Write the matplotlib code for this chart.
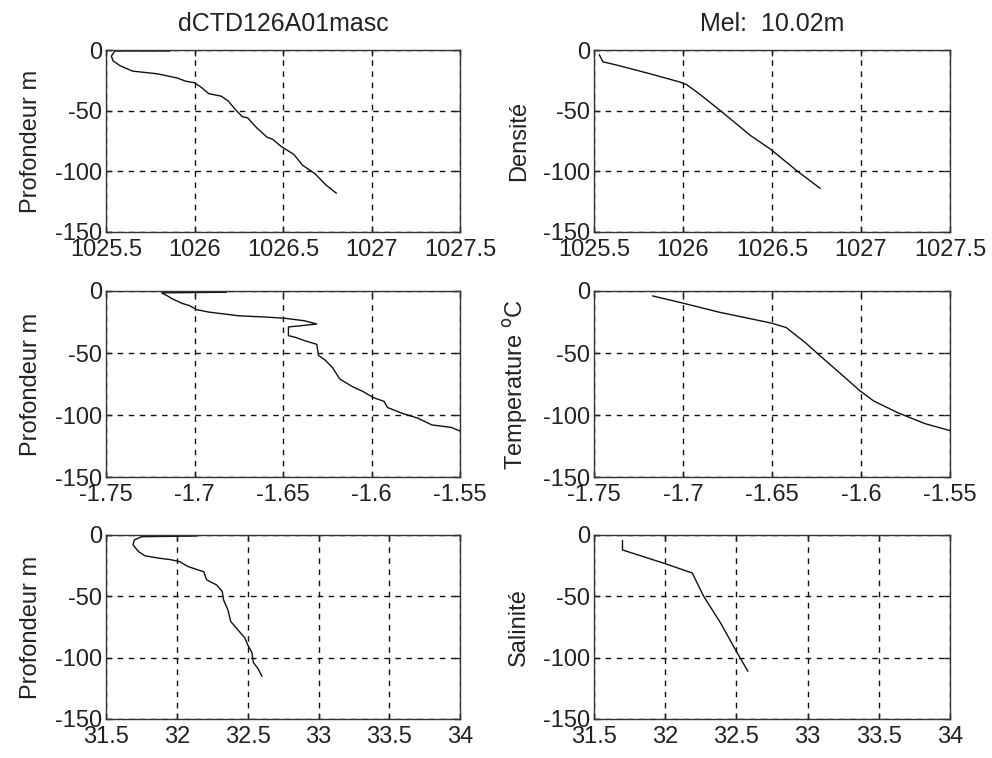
import numpy as np
import matplotlib
matplotlib.use('Agg')
import matplotlib.pyplot as plt

# profils mesures (colonne gauche) et lisses (colonne droite)
dens_raw = [1025.86, 1025.55, 1025.53, 1025.54, 1025.58, 1025.65, 1025.79, 1025.90, 1025.95,
            1026.00, 1026.04, 1026.08, 1026.15, 1026.19, 1026.23, 1026.27, 1026.30, 1026.35,
            1026.41, 1026.44, 1026.49, 1026.56, 1026.61, 1026.68, 1026.74, 1026.80]
prof_dens_raw = [-0.8, -0.8, -5, -9, -13, -17.4, -19.6, -23, -25.7,
                 -27, -31, -36, -38, -42, -49, -55, -56, -64,
                 -72, -73.5, -79.6, -86, -95, -102, -111, -118]

temp_raw = [-1.682, -1.7186, -1.7149, -1.713, -1.707, -1.703, -1.699, -1.692, -1.675, -1.660,
            -1.649, -1.638, -1.631, -1.640, -1.647, -1.647, -1.643, -1.638, -1.631, -1.630,
            -1.626, -1.622, -1.618, -1.611, -1.605, -1.599, -1.593, -1.591, -1.583, -1.574,
            -1.566, -1.555, -1.550]
prof_temp_raw = [-1, -1.5, -4.3, -6, -10, -11.7, -15, -17, -20, -21,
                 -22, -24, -26.6, -28, -29, -36, -37.4, -40, -43, -52,
                 -56, -62, -71, -77, -81, -86, -89, -94, -98.5, -102.5,
                 -108, -110, -113]

sal_raw = [32.14, 31.75, 31.70, 31.69, 31.73, 31.775, 31.88, 31.95, 32.02, 32.08, 32.19,
           32.21, 32.28, 32.32, 32.33, 32.36, 32.38, 32.44, 32.48, 32.50, 32.53, 32.54,
           32.57, 32.60]
prof_sal_raw = [-0.8, -1.4, -4, -8, -13.6, -17, -19, -20, -21.7, -25.8, -30,
                -36.6, -40.7, -46, -53, -61, -70.5, -78.6, -84, -89.5, -96, -104,
                -108.5, -115]

dens_mel = [1025.53, 1025.55, 1025.63, 1025.81, 1025.98, 1026.02, 1026.09, 1026.21,
            1026.38, 1026.49, 1026.64, 1026.77]
prof_dens_mel = [-4, -9.7, -12.5, -19.4, -26.3, -28.5, -36, -50, -70.6, -81.6, -99.6, -114]

temp_mel = [-1.717, -1.700, -1.680, -1.650, -1.642, -1.631, -1.624, -1.612, -1.601,
            -1.593, -1.579, -1.564, -1.550]
prof_temp_mel = [-4, -9.8, -17, -26, -29.5, -42, -51, -66, -80, -88.6, -98.4, -107, -112.6]

sal_mel = [31.70, 31.70, 31.99, 32.19, 32.27, 32.39, 32.50, 32.58]
prof_sal_mel = [-4.6, -12.2, -23, -31, -50, -72, -95, -111]

plt.rcParams['font.family'] = ['Liberation Sans', 'DejaVu Sans']
plt.rcParams['font.size'] = 17

fig = plt.figure(figsize=(9.92, 7.58), dpi=100)

# positions des axes [gauche, bas, largeur, hauteur]
lignes = [(0.694, 0.240), (0.3707, 0.2454), (0.0515, 0.2427)]
colonnes = [(0.1069, 0.357), (0.5988, 0.3589)]

panneaux = [
    (dens_raw, prof_dens_raw, 0, 0, 'Profondeur m', (1025.5, 1027.5), [1025.5, 1026, 1026.5, 1027, 1027.5], ['1025.5', '1026', '1026.5', '1027', '1027.5']),
    (dens_mel, prof_dens_mel, 0, 1, 'Densité', (1025.5, 1027.5), [1025.5, 1026, 1026.5, 1027, 1027.5], ['1025.5', '1026', '1026.5', '1027', '1027.5']),
    (temp_raw, prof_temp_raw, 1, 0, 'Profondeur m', (-1.75, -1.55), [-1.75, -1.7, -1.65, -1.6, -1.55], ['-1.75', '-1.7', '-1.65', '-1.6', '-1.55']),
    (temp_mel, prof_temp_mel, 1, 1, 'Temperature $^{\\rm o}$C', (-1.75, -1.55), [-1.75, -1.7, -1.65, -1.6, -1.55], ['-1.75', '-1.7', '-1.65', '-1.6', '-1.55']),
    (sal_raw, prof_sal_raw, 2, 0, 'Profondeur m', (31.5, 34), [31.5, 32, 32.5, 33, 33.5, 34], ['31.5', '32', '32.5', '33', '33.5', '34']),
    (sal_mel, prof_sal_mel, 2, 1, 'Salinité', (31.5, 34), [31.5, 32, 32.5, 33, 33.5, 34], ['31.5', '32', '32.5', '33', '33.5', '34']),
]

axes = {}
for x, y, r, c, ylab, xlim, xt, xtl in panneaux:
    b, h = lignes[r]
    l, w = colonnes[c]
    ax = fig.add_axes([l, b, w, h])
    ax.plot(x, y, color='#111111', lw=1.0)
    ax.set_xlim(*xlim)
    ax.set_ylim(-150, 0)
    ax.set_xticks(xt)
    ax.set_xticklabels(xtl)
    ax.set_yticks([-150, -100, -50, 0])
    ax.set_yticklabels(['-150', '-100', '-50', '0'])
    ax.tick_params(direction='in', length=4, width=1, top=True, right=True,
                   colors='#222222', labelcolor='#222222')
    ax.tick_params(axis='x', pad=5)
    ax.tick_params(axis='y', pad=3)
    ax.grid(True, color='#111111', linestyle=(0, (4, 4)), linewidth=1.0)
    for s in ax.spines.values():
        s.set_color('#333333')
        s.set_linewidth(1.0)
    ax.set_ylabel(ylab, color='#222222', labelpad=9)
    axes[(r, c)] = ax

axes[(0, 0)].set_title('dCTD126A01masc', color='#222222', pad=14, fontsize=18)
axes[(0, 1)].set_title('Mel:  10.02m', color='#222222', pad=14, fontsize=18)

plt.savefig('out.png', dpi=100)
